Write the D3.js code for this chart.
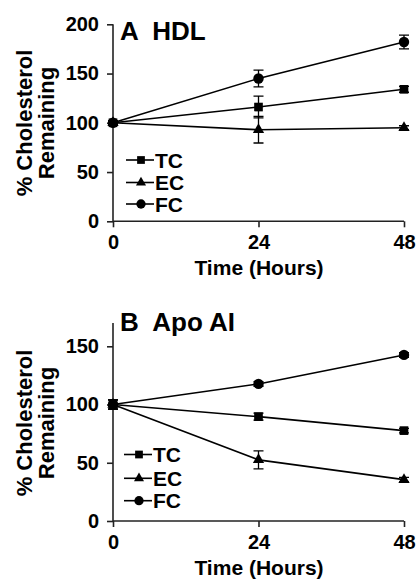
<!DOCTYPE html>
<head>
  <title>% Cholesterol Remaining</title>
  <style>
    body { margin: 0; background: #fff; }
    text { font-family: Arial, "Liberation Sans", sans-serif; font-weight: bold; fill: #000; }
  </style>
</head>
<body>
<script src="https://cdn.jsdelivr.net/npm/d3@7/dist/d3.min.js"></script>
<script>
  // data
  var hours = [0, 24, 48];
  var seriesNames = ["TC", "EC", "FC"];

  var hdlTC = [100, 116, 134];
  var hdlEC = [100, 93, 95];
  var hdlFC = [100, 145, 182];
  var hdlTCerr = [2, 11, 3];
  var hdlECerr = [2, 13.5, 2];
  var hdlFCerr = [2, 8.5, 7];

  var apoTC = [100, 89.6, 77.6];
  var apoEC = [100, 52.5, 35.5];
  var apoFC = [100, 117.7, 142.6];
  var apoTCerr = [4, 3, 2];
  var apoECerr = [4, 7.7, 2];
  var apoFCerr = [4, 2, 2];

  var hdlTicks = [0, 50, 100, 150, 200];
  var apoTicks = [0, 50, 100, 150];

  var svg = d3.select("body").append("svg")
      .attr("width", 418)
      .attr("height", 579);

  function drawPanel(opt) {
    var x = d3.scaleLinear().domain([0, 48]).range([113, 404]);
    var y = d3.scaleLinear().domain(opt.domain).range([opt.bottom, opt.top]);
    var g = svg.append("g");

    // axes
    var xa = g.append("g").attr("transform", "translate(0," + opt.bottom + ")")
        .call(d3.axisBottom(x).tickValues(hours).tickSize(6).tickPadding(8));
    var ya = g.append("g").attr("transform", "translate(113,0)")
        .call(d3.axisLeft(y).tickValues(opt.ticks).tickSize(6).tickPadding(8));
    [xa, ya].forEach(function(a) {
      a.select(".domain").attr("stroke", "#222").attr("stroke-width", 1.6);
      a.selectAll(".tick line").attr("stroke", "#222").attr("stroke-width", 1.6);
      a.selectAll(".tick text").style("font-size", "20px").style("font-family", null);
    });
    xa.select(".domain").attr("d", "M113,0H404");
    ya.select(".domain").attr("d", "M0," + opt.bottom + "V" + y(opt.domain[1]));

    // labels
    g.append("text").attr("x", 120).attr("y", opt.titleY)
        .style("font-size", "26px").style("white-space", "pre").text(opt.title);
    g.append("text").attr("x", 259).attr("y", opt.bottom + 54)
        .attr("text-anchor", "middle").style("font-size", "21px").text("Time (Hours)");
    var cy = opt.labelY;
    g.append("text").attr("transform", "translate(32," + cy + ") rotate(-90)")
        .attr("text-anchor", "middle").style("font-size", "22px").text("% Cholesterol");
    g.append("text").attr("transform", "translate(54," + cy + ") rotate(-90)")
        .attr("text-anchor", "middle").style("font-size", "22px").text("Remaining");

    var line = d3.line().x(function(d, i) { return x(hours[i]); }).y(function(d) { return y(d); });

    opt.series.forEach(function(s, k) {
      g.append("path").datum(s.values).attr("d", line)
          .attr("fill", "none").attr("stroke", "#000").attr("stroke-width", 1.6);
      // error bars
      s.values.forEach(function(v, i) {
        var e = s.err[i], cx = x(hours[i]);
        g.append("path")
            .attr("d", "M" + cx + "," + y(v - e) + "V" + y(v + e) +
                "M" + (cx - 5) + "," + y(v - e) + "H" + (cx + 5) +
                "M" + (cx - 5) + "," + y(v + e) + "H" + (cx + 5))
            .attr("stroke", "#000").attr("stroke-width", 1.3).attr("fill", "none");
      });
      g.selectAll(null).data(s.values).enter().append("path")
          .attr("transform", function(d, i) { return "translate(" + x(hours[i]) + "," + y(d) + ")"; })
          .attr("d", d3.symbol().type(s.symbol).size(s.size))
          .attr("fill", "#000");

      // legend
      var ly = opt.legendY[k];
      g.append("path").attr("d", "M" + opt.legendX + "," + ly + "H" + (opt.legendX + 28))
          .attr("stroke", "#000").attr("stroke-width", 1.6);
      g.append("path").attr("transform", "translate(" + (opt.legendX + 15) + "," + ly + ")")
          .attr("d", d3.symbol().type(s.symbol).size(s.size * 0.8)).attr("fill", "#000");
      g.append("text").attr("x", opt.legendX + 29).attr("y", ly + 7.5)
          .style("font-size", "21px").text(seriesNames[k]);
    });
  }

  drawPanel({
    title: "A  HDL", titleY: 40, top: 24.3, bottom: 221.3, domain: [0, 200], ticks: hdlTicks,
    labelY: 123, legendX: 126, legendY: [160, 182.5, 204],
    series: [
      { values: hdlTC, err: hdlTCerr, symbol: d3.symbolSquare, size: 75 },
      { values: hdlEC, err: hdlECerr, symbol: d3.symbolTriangle, size: 55 },
      { values: hdlFC, err: hdlFCerr, symbol: d3.symbolCircle, size: 85 }
    ]
  });

  drawPanel({
    title: "B  Apo AI", titleY: 331, top: 323, bottom: 521, domain: [0, 170], ticks: apoTicks,
    labelY: 423, legendX: 124, legendY: [454.5, 478.3, 500.7],
    series: [
      { values: apoTC, err: apoTCerr, symbol: d3.symbolSquare, size: 75 },
      { values: apoEC, err: apoECerr, symbol: d3.symbolTriangle, size: 55 },
      { values: apoFC, err: apoFCerr, symbol: d3.symbolCircle, size: 85 }
    ]
  });
</script>
</body>
